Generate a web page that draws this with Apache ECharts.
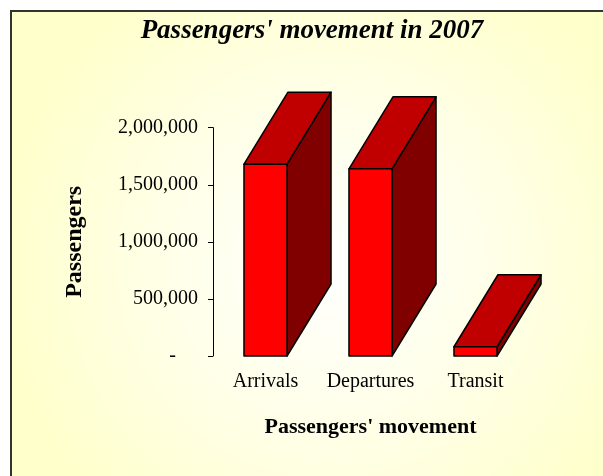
<!DOCTYPE html>
<html lang="en">
<head>
    <meta charset="UTF-8">
    <title>Passengers' movement in 2007</title>
    <script src="https://cdn.jsdelivr.net/npm/echarts@6/dist/echarts.min.js"></script>
    <style>
        html, body { margin: 0; padding: 0; background: #ffffff; }
        #main { width: 603px; height: 476px; }
    </style>
</head>
<body>
    <div id="main"></div>
    <script>
        // Data
        var categories = ['Arrivals', 'Departures', 'Transit'];
        var passengers = [1680000, 1640000, 81000];
        var yTicks = [0, 500000, 1000000, 1500000, 2000000];

        var FONT = "'Liberation Serif', 'Times New Roman', serif";
        var DEPTH_X = 44, DEPTH_Y = 72;

        var chart = echarts.init(document.getElementById('main'));

        // 3D-looking bar: front, top and right side faces
        function renderBar(params, api) {
            var top = api.coord([api.value(0), api.value(1)]);
            var base = api.coord([api.value(0), 0]);
            var w = api.size([1, 0])[0] * 0.41;
            var x0 = top[0] - w / 2, x1 = top[0] + w / 2;
            var y0 = top[1], y1 = base[1];
            var edge = { stroke: '#000000', lineWidth: 1.5, lineJoin: 'round' };
            return {
                type: 'group',
                children: [
                    { type: 'polygon', shape: { points: [[x1, y0], [x1 + DEPTH_X, y0 - DEPTH_Y], [x1 + DEPTH_X, y1 - DEPTH_Y], [x1, y1]] },
                      style: Object.assign({ fill: '#800000' }, edge) },
                    { type: 'polygon', shape: { points: [[x0, y0], [x0 + DEPTH_X, y0 - DEPTH_Y], [x1 + DEPTH_X, y0 - DEPTH_Y], [x1, y0]] },
                      style: Object.assign({ fill: '#C00000' }, edge) },
                    { type: 'polygon', shape: { points: [[x0, y0], [x1, y0], [x1, y1], [x0, y1]] },
                      style: Object.assign({ fill: '#FF0000' }, edge) }
                ]
            };
        }

        var option = {
            backgroundColor: '#ffffff',
            animation: false,
            graphic: {
                elements: [{
                    type: 'rect',
                    z: -10,
                    shape: { x: 11, y: 11, width: 700, height: 600 },
                    style: {
                        fill: {
                            type: 'radial', x: 330, y: 265, r: 330, global: true,
                            colorStops: [
                                { offset: 0, color: '#FFFFFF' },
                                { offset: 0.55, color: '#FFFFE6' },
                                { offset: 1, color: '#FFFFCC' }
                            ]
                        },
                        stroke: '#333333',
                        lineWidth: 2
                    }
                }]
            },
            title: {
                text: "Passengers' movement in 2007",
                left: 307,
                top: 13,
                textAlign: 'center',
                textStyle: { fontFamily: FONT, fontSize: 27, fontWeight: 'bold', fontStyle: 'italic', color: '#000000' }
            },
            grid: { left: 213, right: 75, top: 127.7, bottom: 120, containLabel: false },
            xAxis: {
                type: 'category',
                data: categories,
                name: "Passengers' movement",
                nameLocation: 'middle',
                nameGap: 60,
                nameTextStyle: { fontFamily: FONT, fontSize: 22, fontWeight: 'bold', color: '#000000', verticalAlign: 'top' },
                axisLine: { show: false },
                axisTick: { show: false },
                axisLabel: { interval: 0, hideOverlap: false, margin: 16, fontFamily: FONT, fontSize: 20, color: '#000000' },
                splitLine: { show: false }
            },
            yAxis: {
                type: 'value',
                min: yTicks[0],
                max: yTicks[yTicks.length - 1],
                interval: yTicks[1] - yTicks[0],
                name: 'Passengers',
                nameLocation: 'middle',
                nameRotate: 90,
                nameGap: 126,
                nameTextStyle: { fontFamily: FONT, fontSize: 24, fontWeight: 'bold', color: '#000000' },
                axisLine: { show: true, lineStyle: { color: '#000000', width: 1 } },
                axisTick: { show: true, length: 5, lineStyle: { color: '#000000' } },
                axisLabel: {
                    margin: 15,
                    fontFamily: FONT,
                    fontSize: 20,
                    color: '#000000',
                    formatter: function (v) {
                        if (v === 0) return '{d|-}';
                        return v.toLocaleString('en-US');
                    },
                    rich: {
                        d: { fontFamily: FONT, fontSize: 20, color: '#000000', padding: [0, 22, 0, 0] }
                    }
                },
                splitLine: { show: false }
            },
            series: [{
                type: 'custom',
                renderItem: renderBar,
                clip: false,
                data: categories.map(function (c, i) { return [i, passengers[i]]; })
            }]
        };

        chart.setOption(option);
    </script>
</body>
</html>
